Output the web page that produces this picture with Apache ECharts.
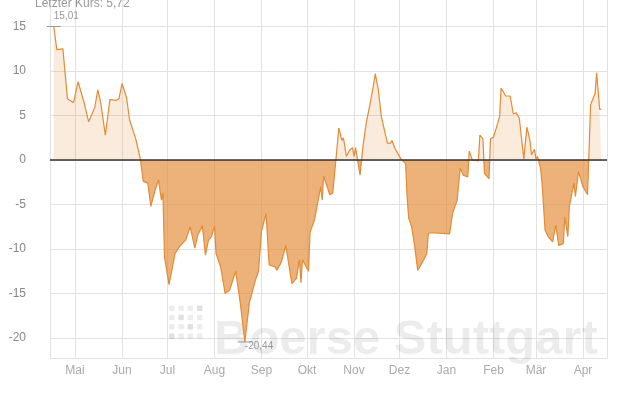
<!DOCTYPE html>
<html>
<head>
<meta charset="utf-8">
<script src="https://cdn.jsdelivr.net/npm/echarts@6/dist/echarts.min.js"></script>
<style>
html,body{margin:0;padding:0;background:#fff;}
#chart{width:639px;height:399px;}
</style>
</head>
<body>
<div id="chart"></div>
<script>
// ---- data ----
const dates = ['2022-04-17','2022-04-19','2022-04-23','2022-04-26','2022-04-30',
'2022-05-03','2022-05-07','2022-05-10','2022-05-14','2022-05-16','2022-05-18','2022-05-21','2022-05-24','2022-05-28','2022-05-30',
'2022-06-01','2022-06-04','2022-06-06','2022-06-07','2022-06-10','2022-06-13','2022-06-15','2022-06-18','2022-06-20','2022-06-22','2022-06-25','2022-06-27','2022-06-28','2022-06-29',
'2022-07-02','2022-07-06','2022-07-09','2022-07-13','2022-07-16','2022-07-19','2022-07-21','2022-07-24','2022-07-26','2022-07-28','2022-07-30',
'2022-08-01','2022-08-02','2022-08-05','2022-08-08','2022-08-11','2022-08-15','2022-08-18','2022-08-21','2022-08-24','2022-08-28','2022-08-30',
'2022-09-01','2022-09-04','2022-09-06','2022-09-10','2022-09-11','2022-09-14','2022-09-17','2022-09-21','2022-09-24','2022-09-26','2022-09-27','2022-09-28',
'2022-10-02','2022-10-03','2022-10-06','2022-10-10','2022-10-11','2022-10-12','2022-10-16','2022-10-18','2022-10-22','2022-10-24','2022-10-25','2022-10-27','2022-10-29','2022-10-31',
'2022-11-01','2022-11-02','2022-11-05','2022-11-07','2022-11-09','2022-11-12','2022-11-14','2022-11-15','2022-11-17','2022-11-19','2022-11-21','2022-11-23','2022-11-25','2022-11-26','2022-11-28',
'2022-12-02','2022-12-05','2022-12-06','2022-12-07','2022-12-09','2022-12-11','2022-12-13','2022-12-17','2022-12-19','2022-12-20','2022-12-24',
'2023-01-03','2023-01-05','2023-01-08','2023-01-10','2023-01-12','2023-01-15','2023-01-16','2023-01-17','2023-01-18','2023-01-22','2023-01-23','2023-01-25','2023-01-26','2023-01-29','2023-01-30',
'2023-02-01','2023-02-03','2023-02-05','2023-02-06','2023-02-07','2023-02-09','2023-02-12','2023-02-14','2023-02-16','2023-02-17','2023-02-18','2023-02-21','2023-02-23','2023-02-25','2023-02-26','2023-02-28',
'2023-03-01','2023-03-02','2023-03-04','2023-03-05','2023-03-07','2023-03-09','2023-03-12','2023-03-14','2023-03-16','2023-03-19','2023-03-20','2023-03-22','2023-03-23','2023-03-26','2023-03-27','2023-03-29',
'2023-04-01','2023-04-04','2023-04-06','2023-04-09','2023-04-10','2023-04-12','2023-04-13'];

const values = [15.01,12.4,12.5,6.9,6.45,
8.8,6.45,4.3,5.9,7.9,6.4,2.8,6.8,6.7,6.9,
8.6,7.0,4.5,4.3,2.4,0.2,-2.4,-2.6,-5.2,-3.9,-2.2,-4.5,-3.7,-10.9,
-14.0,-10.5,-9.7,-9.0,-7.5,-9.9,-8.4,-7.4,-10.7,-9.0,-8.6,
-7.4,-10.5,-12.0,-15.0,-14.6,-12.5,-16.1,-20.44,-16.0,-13.5,-12.5,
-8.0,-6.0,-11.8,-12.0,-12.4,-11.5,-9.6,-13.9,-13.3,-11.2,-13.8,-11.2,
-12.5,-8.1,-6.7,-3.0,-4.5,-1.8,-3.9,-3.7,3.6,2.2,2.5,0.4,1.1,1.4,
0.4,1.4,-1.7,1.7,4.1,6.7,8.6,9.7,7.9,4.9,3.4,1.9,1.9,2.2,1.3,
0.1,-0.4,-4.1,-6.5,-7.5,-9.7,-12.4,-11.2,-10.5,-8.2,-8.2,
-8.3,-6.0,-4.5,-0.9,-1.7,-1.9,1.0,1.1,0.0,-0.1,2.8,2.4,-1.5,-2.1,2.4,
2.6,3.7,4.9,8.1,8.2,7.2,7.2,5.2,5.3,5.1,4.7,0.1,3.7,2.2,0.6,1.2,
0.1,0.4,-0.9,-2.6,-7.9,-8.6,-9.2,-7.3,-9.6,-9.4,-6.4,-8.6,-5.2,-2.6,-4.1,-1.3,
-3.0,-3.9,6.2,7.5,9.8,5.7,5.72];

const monthNames = ['Jan','Feb','Mär','Apr','Mai','Jun','Jul','Aug','Sep','Okt','Nov','Dez'];
const lastPriceText = 'Letzter Kurs: 5,72';
const watermarkText = 'Boerse Stuttgart';
const xMin = '2022-04-14 12:00';
const xMax = '2023-04-16 20:00';
const yMin = -22.25;
const yMax = 18.1;

// ---- chart ----
const pairs = dates.map((d, i) => [d, values[i]]);
const fmt = v => v.toFixed(2).replace('.', ',');
const FONT = '"Liberation Sans", Arial, sans-serif';
const POS_FILL = 'rgba(227,141,58,0.18)';
const NEG_FILL = 'rgba(227,141,58,0.68)';

const dots = [];
const dark = { '0,3': 1, '1,1': 1, '2,2': 1, '3,0': 1 };
for (let r = 0; r < 4; r++) {
  for (let c = 0; c < 4; c++) {
    dots.push({
      type: 'rect', z: 1, silent: true,
      shape: { x: 169 + c * 9.3, y: 305.5 + r * 9.3, width: 5.5, height: 5.5, r: 1 },
      style: { fill: dark[r + ',' + c] ? 'rgba(0,0,0,0.12)' : 'rgba(0,0,0,0.07)' }
    });
  }
}

const chart = echarts.init(document.getElementById('chart'), null, { renderer: 'canvas' });
chart.setOption({
  animation: false,
  backgroundColor: '#fff',
  textStyle: { fontFamily: FONT },
  grid: { left: 50, right: 32, top: -1, bottom: 41, containLabel: false, outerBoundsMode: 'none' },
  xAxis: {
    type: 'time', min: xMin, max: xMax, splitNumber: 12,
    minInterval: 28 * 864e5, maxInterval: 31 * 864e5,
    axisLine: { show: true, lineStyle: { color: '#d6d6d6', width: 1 } },
    axisTick: { show: false },
    axisLabel: {
      color: '#aaa', fontSize: 12, margin: 7, fontFamily: FONT,
      formatter: function (v) { const d = new Date(v); return d.getDate() === 1 ? monthNames[d.getMonth()] : ''; }
    },
    splitLine: { show: true, lineStyle: { color: '#e2e2e2', width: 1 } }
  },
  yAxis: [{
    type: 'value', min: yMin, max: yMax, splitNumber: 8,
    axisLine: { show: false }, axisTick: { show: false },
    axisLabel: {
      color: '#888', fontSize: 12, margin: 24, fontFamily: FONT,
      formatter: function (v) { return (Math.abs(v % 5) < 1e-9) ? String(Math.round(v)) : ''; }
    },
    splitLine: { show: true, lineStyle: { color: '#e2e2e2', width: 1 } }
  }, {
    type: 'value', position: 'right', min: yMin, max: yMax,
    axisLine: { show: true, lineStyle: { color: '#e2e2e2', width: 1 } },
    axisTick: { show: false }, axisLabel: { show: false }, splitLine: { show: false }
  }],
  graphic: [
    { type: 'text', x: 35, y: 4, z: 10, silent: true,
      style: { text: lastPriceText, fill: '#999', font: '12px ' + FONT, verticalAlign: 'middle', align: 'left' } },
    { type: 'text', x: 214, y: 340, z: 1, silent: true,
      style: { text: watermarkText, fill: 'rgba(0,0,0,0.075)', font: 'bold 49px ' + FONT, verticalAlign: 'middle', align: 'left' } }
  ].concat(dots),
  series: [
    {
      type: 'line', data: pairs, symbol: 'none', z: 4,
      lineStyle: { color: '#e38b35', width: 1.2 },
      itemStyle: { color: '#e38b35' },
      markLine: {
        silent: true, symbol: 'none', label: { show: false },
        lineStyle: { color: '#333', width: 1.5, type: 'solid' },
        data: [{ yAxis: 0 }]
      },
      markPoint: {
        silent: true, symbol: 'rect', symbolSize: [14, 1],
        itemStyle: { color: '#999' },
        label: { color: '#999', fontSize: 10, fontFamily: FONT, formatter: function (p) { return fmt(p.value); } },
        data: [
          { type: 'max', label: { position: [7, -15] } },
          { type: 'min', label: { position: [7, 0] } }
        ]
      }
    },
    {
      type: 'line', data: pairs, symbol: 'none', z: 3, silent: true,
      lineStyle: { width: 0 },
      areaStyle: { opacity: 1, color: NEG_FILL }
    }
  ]
});

// two-tone fill split exactly at the zero line (position taken from the axis)
const H = chart.getHeight();
const zeroY = chart.convertToPixel({ yAxisIndex: 0 }, 0);
const off = Math.min(1, Math.max(0, zeroY / H));
chart.setOption({
  series: [{}, {
    areaStyle: {
      opacity: 1,
      color: new echarts.graphic.LinearGradient(0, 0, 0, H, [
        { offset: 0, color: POS_FILL },
        { offset: off, color: POS_FILL },
        { offset: off, color: NEG_FILL },
        { offset: 1, color: NEG_FILL }
      ], true)
    }
  }]
});
</script>
</body>
</html>
